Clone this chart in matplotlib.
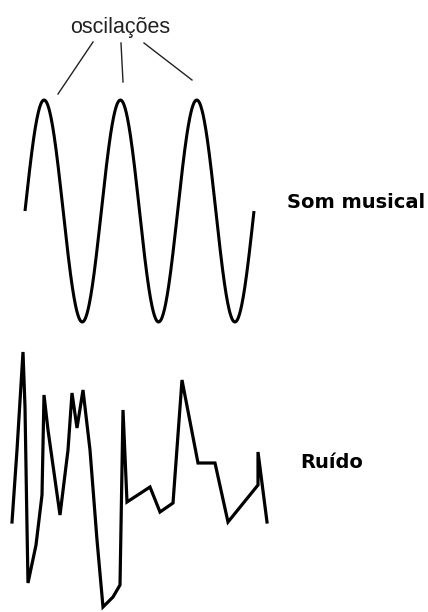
import numpy as np
import matplotlib.pyplot as plt

# musical tone: three full cycles of a sine
sine_x_range = [25, 254]
sine_center = 211
sine_amplitude = 111
sine_cycles = 3

# noise trace vertices (pixel space of the drawing)
noise_x = [12, 17, 23, 25, 27, 28, 36, 42, 44, 48, 60, 68, 72, 77, 83, 90, 97, 103,
           113, 120, 123, 127, 150, 160, 173, 182, 198, 215, 228, 258, 258, 267]
noise_y = [522, 450, 352, 407, 527, 583, 545, 495, 395, 430, 515, 450, 393, 428, 390,
           450, 540, 607, 597, 585, 410, 502, 487, 512, 503, 380, 463, 463, 522, 485,
           452, 522]

# pointer lines from the label to the peaks
pointer_start = [(93, 42), (121, 43), (144, 43)]
pointer_end = [(58, 94), (123, 82), (192, 80)]

fig = plt.figure(figsize=(4.28, 6.12), dpi=100)
ax = fig.add_axes([0, 0, 1, 1])
ax.set_xlim(0, 428)
ax.set_ylim(612, 0)
ax.axis("off")

t = np.linspace(0, 1, 600)
sx = sine_x_range[0] + t * (sine_x_range[1] - sine_x_range[0])
sy = sine_center - sine_amplitude * np.sin(2 * np.pi * sine_cycles * t)
ax.plot(sx, sy, color="black", lw=2.2, solid_capstyle="butt")

ax.plot(noise_x, noise_y, color="black", lw=2.3, solid_joinstyle="miter")

for (x0, y0), (x1, y1) in zip(pointer_start, pointer_end):
    ax.plot([x0, x1], [y0, y1], color="#222222", lw=1.0)

ax.text(120, 27, "oscilações", ha="center", va="center", fontsize=15.5,
        family="Liberation Sans", color="#222222")
ax.text(356, 202, "Som musical", ha="center", va="center", fontsize=14,
        fontweight="bold", family="DejaVu Sans")
ax.text(332, 463, "Ruído", ha="center", va="center", fontsize=14,
        fontweight="bold", family="DejaVu Sans")

fig.savefig("out.png", dpi=100, facecolor="white")
